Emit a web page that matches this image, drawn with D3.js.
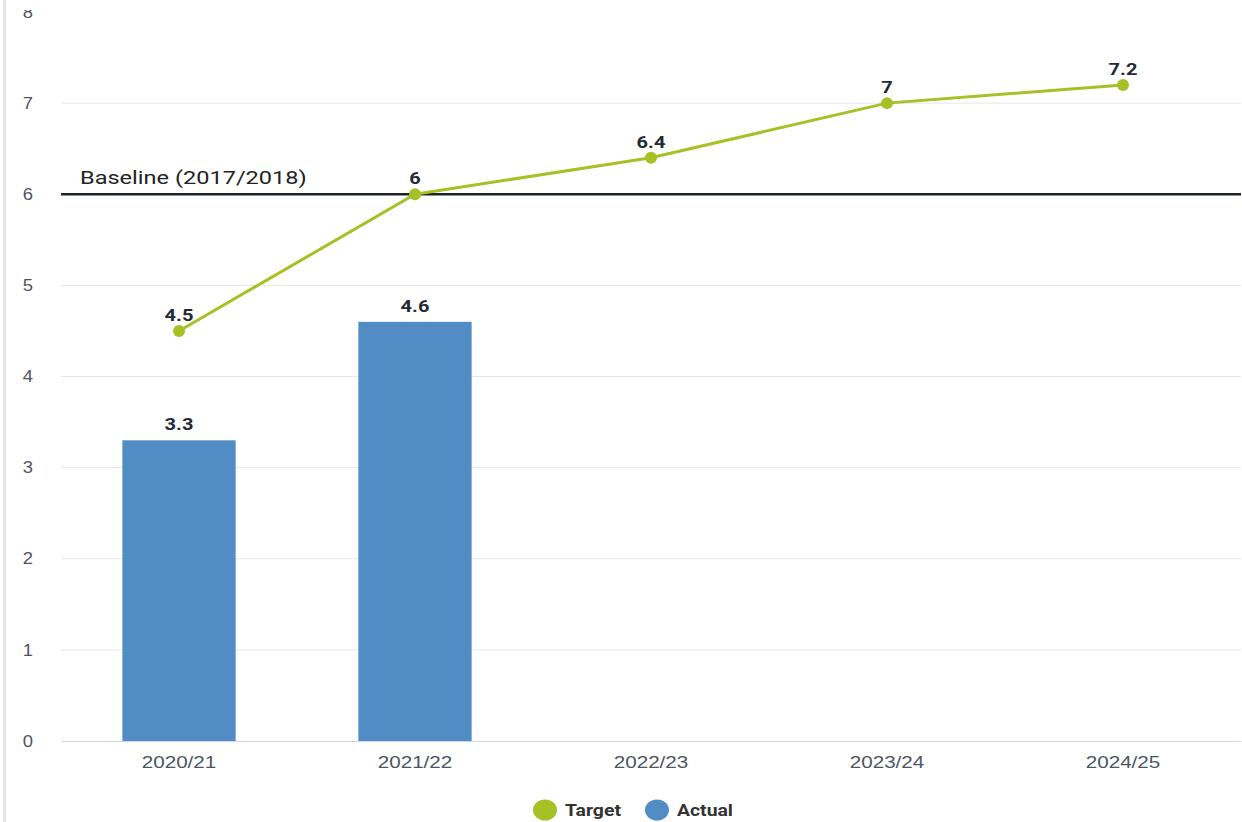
<!DOCTYPE html>
<html>
<head>
<meta charset="utf-8">
<script src="https://cdn.jsdelivr.net/npm/d3@7"></script>
<style>
  body { margin: 0; background: #fff; overflow: hidden; }
  svg { display: block; font-family: Roboto, "Noto Sans", sans-serif; }
</style>
</head>
<body>
<svg id="chart" width="1242" height="822"></svg>
<script>
// du lieu
const years = ["2020/21", "2021/22", "2022/23", "2023/24", "2024/25"];
const actual = [3.3, 4.6, null, null, null];
const target = [4.5, 6, 6.4, 7, 7.2];
const baseline = 6;
const baselineLabel = "Baseline (2017/2018)";
const yTicks = [0, 1, 2, 3, 4, 5, 6, 7, 8];

const svg = d3.select("#chart"),
      margin = {top: 12, right: 1, bottom: 81, left: 61},
      width = +svg.attr("width") - margin.left - margin.right,
      height = +svg.attr("height") - margin.top - margin.bottom;

// keo gian chu theo chieu ngang (anh goc bi gian)
function stretch(sel, s) {
  sel.each(function() {
    const t = d3.select(this);
    const x0 = +t.attr("x") || 0;
    t.attr("transform", `translate(${x0},0) scale(${s},1) translate(${-x0},0)`);
  });
}

const g = svg.append("g")
             .attr("transform", `translate(${margin.left},${margin.top})`);

const x = d3.scaleBand()
            .domain(years)
            .range([0, width])
            .padding(0);

const y = d3.scaleLinear()
            .domain([0, 8])
            .range([height, 0]);

// luoi
g.selectAll("line.grid")
  .data(yTicks.filter(d => d > 0 && d < 8))
  .enter().append("line")
    .attr("class", "grid")
    .attr("x1", 0).attr("x2", width)
    .attr("y1", d => y(d)).attr("y2", d => y(d))
    .attr("stroke", "#e6e6e6");

// truc Y
const yAxis = g.append("g")
  .call(d3.axisLeft(y).tickValues(yTicks).tickSize(0).tickPadding(28));
yAxis.select(".domain").remove();
yAxis.selectAll("text")
  .attr("fill", "#4d5563")
  .style("font-size", "16px")
  .call(stretch, 1.15);

// cot Actual
const bw = x.bandwidth() * 0.48;
g.selectAll("rect.bar")
  .data(years.map((k, i) => ({k, v: actual[i]})).filter(d => d.v != null))
  .enter().append("rect")
    .attr("class", "bar")
    .attr("x", d => x(d.k) + x.bandwidth() / 2 - bw / 2)
    .attr("y", d => y(d.v))
    .attr("width", bw)
    .attr("height", d => height - y(d.v))
    .attr("fill", "#518dc4");

// truc X
const xAxis = g.append("g")
  .attr("transform", `translate(0,${height})`)
  .call(d3.axisBottom(x).tickSize(0).tickPadding(15));
xAxis.select(".domain").attr("stroke", "#ccd6eb");
xAxis.selectAll("text")
  .attr("fill", "#4d5563")
  .style("font-size", "16.5px")
  .call(stretch, 1.25);

// duong baseline
g.append("line")
  .attr("x1", 0).attr("x2", width)
  .attr("y1", y(baseline)).attr("y2", y(baseline))
  .attr("stroke", "#1e2329")
  .attr("stroke-width", 2.5);
g.append("text")
  .attr("x", 19)
  .attr("y", y(baseline) - 10)
  .attr("fill", "#222")
  .style("font-size", "19px")
  .text(baselineLabel)
  .call(stretch, 1.24);

// duong Target
const tData = years.map((k, i) => ({k, v: target[i]}));
const cx = d => x(d.k) + x.bandwidth() / 2;
g.append("path")
  .datum(tData)
  .attr("fill", "none")
  .attr("stroke", "#a5c126")
  .attr("stroke-width", 3)
  .attr("d", d3.line().x(cx).y(d => y(d.v)));
g.selectAll("circle.pt")
  .data(tData)
  .enter().append("circle")
    .attr("class", "pt")
    .attr("cx", cx)
    .attr("cy", d => y(d.v))
    .attr("r", 6)
    .attr("fill", "#a5c126");

// nhan gia tri
const lab = tData.map(d => ({x: cx(d), y: y(d.v) - 10, t: d.v}))
  .concat(years.map((k, i) => ({k, v: actual[i]})).filter(d => d.v != null)
    .map(d => ({x: cx(d), y: y(d.v) - 10, t: d.v})));
g.selectAll("text.value")
  .data(lab)
  .enter().append("text")
    .attr("class", "value")
    .attr("x", d => d.x)
    .attr("y", d => d.y)
    .attr("text-anchor", "middle")
    .attr("fill", "#222a35")
    .style("font-size", "17px")
    .style("font-weight", "bold")
    .text(d => d.t)
    .call(stretch, 1.18);

// che phan tren cua nhan "8" (anh goc bi cat)
svg.append("rect")
   .attr("x", 8).attr("y", 0)
   .attr("width", 50).attr("height", 10)
   .attr("fill", "#fff");

// vach xam ben trai
svg.append("rect")
   .attr("x", 3).attr("y", 0)
   .attr("width", 3).attr("height", 822)
   .attr("fill", "#e3e4e6");

// chu thich
const legend = [{name: "Target", color: "#a5c126", x: 545}, {name: "Actual", color: "#518dc4", x: 657}];
const lg = svg.selectAll("g.lg")
  .data(legend)
  .enter().append("g")
    .attr("class", "lg")
    .attr("transform", d => `translate(${d.x},810)`);
lg.append("ellipse")
  .attr("rx", 12).attr("ry", 10.5)
  .attr("fill", d => d.color);
lg.append("text")
  .attr("x", 20)
  .attr("y", 6)
  .attr("fill", "#333")
  .style("font-size", "17px")
  .style("font-weight", "bold")
  .text(d => d.name)
  .call(stretch, 1.14);
</script>
</body>
</html>
